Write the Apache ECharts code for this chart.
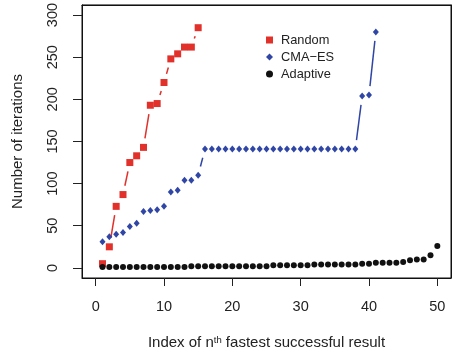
<!DOCTYPE html>
<html>
<head>
<meta charset="utf-8">
<script src="https://cdn.jsdelivr.net/npm/echarts@6/dist/echarts.min.js"></script>
<style>
html,body{margin:0;padding:0;background:#fff;}
#c{width:453px;height:355px;}
</style>
</head>
<body>
<div id="c"></div>
<script>
// Data
const seriesNames = ['Random', 'CMA\u2212ES', 'Adaptive'];
const randomY = [5, 25, 73, 87, 125, 133, 143, 193, 195, 220, 248, 254, 262, 262, 285];
const cmaY = [31, 37, 40, 42, 49, 53, 67, 68, 69, 73, 90, 92, 104, 104, 110,
  141, 141, 141, 141, 141, 141, 141, 141, 141, 141, 141, 141, 141, 141, 141, 141,
  141, 141, 141, 141, 141, 141, 141, 204, 205, 280];
const adaptiveY = [1, 1, 1, 1, 1, 1, 1, 1, 1, 1, 1, 1, 1,
  2, 2, 2, 2, 2, 2, 2, 2, 2, 2, 2, 2,
  3, 3, 3, 3, 3, 3,
  4, 4, 4, 4, 4, 4, 4,
  5, 5, 6, 6, 6, 6, 7, 9, 10, 10, 15, 26];
const xTicks = [0, 10, 20, 30, 40, 50];
const yTicks = [0, 50, 100, 150, 200, 250, 300];

const colors = ['#e2302a', '#2f46a6', '#111111'];
const FONT = 'Liberation Sans, Arial, sans-serif';

function points(ys) { return ys.map((y, i) => [i + 1, y]); }
function segments(ys) {
  const s = [];
  for (let i = 0; i < ys.length - 1; i++) s.push([i + 1, ys[i], i + 2, ys[i + 1]]);
  return s;
}
const GAP = 9;
function gappedLine(ys, color) {
  return {
    type: 'custom',
    name: '_line',
    silent: true,
    clip: true,
    data: segments(ys),
    encode: { x: [0, 2], y: [1, 3] },
    renderItem: function (params, api) {
      const a = api.coord([api.value(0), api.value(1)]);
      const b = api.coord([api.value(2), api.value(3)]);
      const dx = b[0] - a[0], dy = b[1] - a[1];
      const L = Math.sqrt(dx * dx + dy * dy);
      if (L <= 2 * GAP) return null;
      const ux = dx / L, uy = dy / L;
      return {
        type: 'line',
        shape: { x1: a[0] + ux * GAP, y1: a[1] + uy * GAP, x2: b[0] - ux * GAP, y2: b[1] - uy * GAP },
        style: { stroke: color, lineWidth: 1.5 }
      };
    },
    z: 1
  };
}

const chart = echarts.init(document.getElementById('c'), null, { renderer: 'canvas' });
chart.setOption({
  animation: false,
  backgroundColor: '#ffffff',
  textStyle: { fontFamily: FONT },
  grid: { left: 82, right: 2, top: 3, bottom: 76, show: true, borderColor: '#111', borderWidth: 1, backgroundColor: 'transparent' },
  legend: {
    orient: 'vertical',
    left: 261, top: 28,
    itemWidth: 7, itemHeight: 7, itemGap: 3,
    data: seriesNames,
    itemStyle: { opacity: 1 },
    textStyle: { fontFamily: FONT, fontSize: 12.8, color: '#222', padding: [0, 0, 0, 3], lineHeight: 14 }
  },
  xAxis: [{
    type: 'value', min: -2, max: 52,
    name: 'Index of n{sup|th} fastest successful result',
    nameLocation: 'middle', nameGap: 57,
    nameTextStyle: { fontFamily: FONT, fontSize: 15, color: '#222', rich: { sup: { fontFamily: FONT, fontSize: 9.5, verticalAlign: 'top', color: '#222' } } },
    axisLine: { show: true, onZero: false, lineStyle: { color: '#111', width: 1 } },
    splitLine: { show: false },
    axisTick: { show: true, length: 8, customValues: xTicks, lineStyle: { color: '#222' } },
    axisLabel: { customValues: xTicks, margin: 21, fontFamily: FONT, fontSize: 14.5, color: '#222' }
  }, {
    type: 'value', min: -2, max: 52, position: 'top',
    axisLine: { show: true, onZero: false, lineStyle: { color: '#111', width: 1 } },
    axisTick: { show: false }, axisLabel: { show: false }, splitLine: { show: false }
  }],
  yAxis: [{
    type: 'value', min: -12, max: 312,
    name: 'Number of iterations',
    nameLocation: 'middle', nameGap: 57,
    nameTextStyle: { fontFamily: FONT, fontSize: 15, color: '#222' },
    axisLine: { show: true, onZero: false, lineStyle: { color: '#111', width: 1 } },
    splitLine: { show: false },
    axisTick: { show: true, length: 9, customValues: yTicks, lineStyle: { color: '#222' } },
    axisLabel: { customValues: yTicks, rotate: 90, margin: 22, fontFamily: FONT, fontSize: 14.5, color: '#222' }
  }, {
    type: 'value', min: -12, max: 312, position: 'right',
    axisLine: { show: true, onZero: false, lineStyle: { color: '#111', width: 1 } },
    axisTick: { show: false }, axisLabel: { show: false }, splitLine: { show: false }
  }],
  series: [
    gappedLine(randomY, colors[0]),
    gappedLine(cmaY, colors[1]),
    gappedLine(adaptiveY, colors[2]),
    { type: 'scatter', name: seriesNames[0], data: points(randomY), symbol: 'rect', symbolSize: 7, itemStyle: { color: colors[0], opacity: 1 }, z: 3 },
    { type: 'scatter', name: seriesNames[1], data: points(cmaY), symbol: 'diamond', symbolSize: [6, 7], itemStyle: { color: colors[1], opacity: 1 }, z: 3 },
    { type: 'scatter', name: seriesNames[2], data: points(adaptiveY), symbol: 'circle', symbolSize: 6, itemStyle: { color: colors[2], opacity: 1 }, z: 3 }
  ]
});
</script>
</body>
</html>
